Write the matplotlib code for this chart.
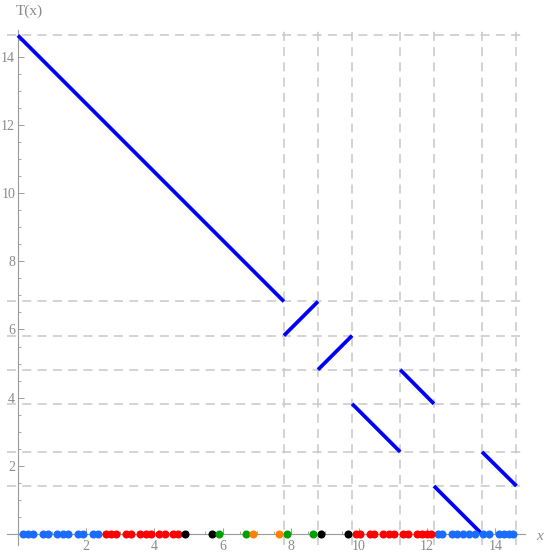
"""
Piecewise isometry T(x) on [0, L] with orbit points marked along the x-axis.
"""
import matplotlib
matplotlib.use("Agg")
import matplotlib.pyplot as plt
from matplotlib.ticker import MultipleLocator

matplotlib.rcParams.update({
    "font.family": ["Liberation Serif", "DejaVu Serif"],
    "lines.scale_dashes": False,
})

# ---- data ----
seg_x0 = [0.00, 7.80, 8.80, 9.80, 11.21, 12.20, 13.61]
seg_x1 = [7.80, 8.80, 9.80, 11.21, 12.20, 13.61, 14.62]
seg_y0 = [14.62, 5.82, 4.82, 3.82, 4.82, 1.41, 2.41]
seg_y1 = [6.82, 6.82, 5.82, 2.41, 3.82, 0.00, 1.41]

grid_x = [7.80, 8.80, 9.80, 11.21, 12.20, 13.61, 14.62]
grid_y = [14.62, 6.82, 5.82, 4.82, 3.82, 2.41, 1.41]

blue_pts = [0.16, 0.30, 0.45, 0.74, 0.89, 1.15, 1.31, 1.48, 1.77, 1.91, 2.19, 2.34,
            12.33, 12.45, 12.72, 12.87, 13.06, 13.23, 13.40, 13.65, 13.81,
            14.10, 14.26, 14.40, 14.52]
red_pts = [2.58, 2.73, 2.89, 3.17, 3.31, 3.58, 3.75, 3.90, 4.14, 4.31, 4.54, 4.70,
           9.90, 10.03, 10.32, 10.45, 10.71, 10.88, 11.04, 11.30, 11.45,
           11.69, 11.86, 12.01, 12.11]
black_pts = [4.90, 5.70, 8.89, 9.67]
green_pts = [5.89, 6.68, 7.90, 8.66]
orange_pts = [6.90, 7.66]

SEG = "#0000FF"
GRID = "#C8C8C8"
AXC = "#9A9A9A"
TXT = "#8A8A8A"

fig = plt.figure(figsize=(5.45, 5.53), dpi=100)
ax = fig.add_axes([7 / 545, 1 - 545 / 553, 518 / 545, 515 / 553])
ax.set_xlim(-0.32, 14.87)
ax.set_ylim(-0.32, 14.78)

# dashed grid at break points and image levels
for gx in grid_x:
    ax.axvline(gx, color=GRID, lw=1.1, dashes=(6.5, 4.5), zorder=1)
for gy in grid_y:
    ax.axhline(gy, color=GRID, lw=1.1, dashes=(6.5, 4.5), zorder=1)

# axes through origin
for s in ("top", "right"):
    ax.spines[s].set_visible(False)
ax.spines["left"].set_position(("data", 0))
ax.spines["bottom"].set_position(("data", 0))
for s in ("left", "bottom"):
    ax.spines[s].set_color(AXC)
    ax.spines[s].set_linewidth(0.8)

ax.xaxis.set_minor_locator(MultipleLocator(0.5))
ax.yaxis.set_minor_locator(MultipleLocator(0.5))
ax.set_xticks([2, 4, 6, 8, 10, 12, 14])
ax.set_yticks([2, 4, 6, 8, 10, 12, 14])
ax.tick_params(which="major", direction="in", length=4.5, width=0.7,
               color=AXC, labelcolor=TXT, labelsize=10, pad=4)
ax.tick_params(axis="y", which="major", pad=2)
ax.tick_params(which="minor", direction="in", length=2.5, width=0.6, color=AXC)

# the map
for x0, x1, y0, y1 in zip(seg_x0, seg_x1, seg_y0, seg_y1):
    ax.plot([x0, x1], [y0, y1], color=SEG, lw=2.7,
            solid_capstyle="butt", zorder=3)

# orbit points on the x-axis
ms = 5.8
ax.plot(blue_pts, [0] * len(blue_pts), "o", color="#1A6CFF", ms=ms, mew=0, zorder=4, clip_on=False)
ax.plot(red_pts, [0] * len(red_pts), "o", color="#FF0000", ms=ms, mew=0, zorder=4, clip_on=False)
ax.plot(black_pts, [0] * len(black_pts), "o", color="#000000", ms=ms, mew=0, zorder=4, clip_on=False)
ax.plot(green_pts, [0] * len(green_pts), "o", color="#00A000", ms=ms, mew=0, zorder=4, clip_on=False)
ax.plot(orange_pts, [0] * len(orange_pts), "o", color="#FF8000", ms=ms, mew=0, zorder=4, clip_on=False)

fig.text(540 / 545, 1 - 536 / 553, "x", color=TXT, fontsize=11,
         style="italic", ha="center", va="center")
fig.text(29 / 545, 1 - 11 / 553, "T(x)", color=TXT, fontsize=11,
         ha="center", va="center")

fig.savefig("out.png", dpi=100)
